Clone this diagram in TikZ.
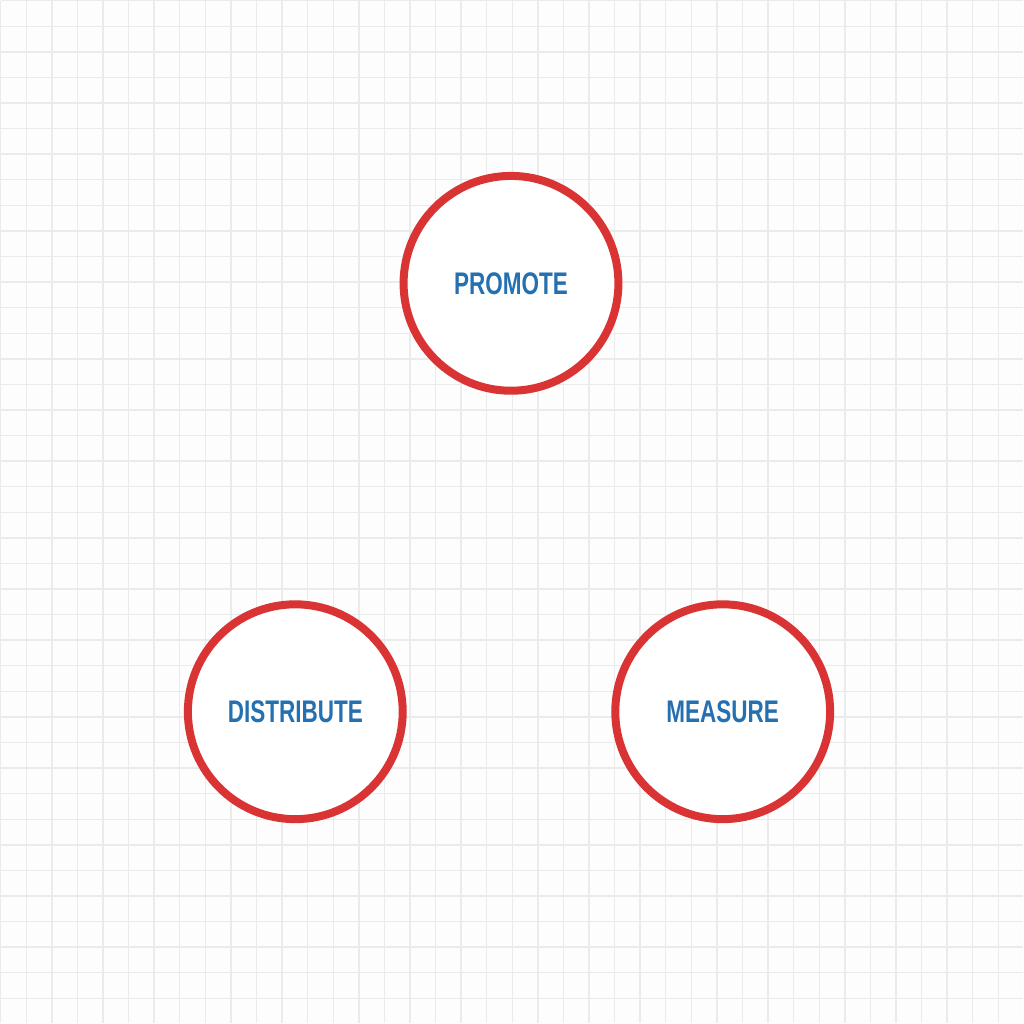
\documentclass[tikz,border=0pt]{standalone}
\usepackage{fontspec}
\setmainfont{Liberation Sans}
\newfontfamily\stagefont[FakeStretch=0.72]{Liberation Sans}
\usepackage{tikz}

\definecolor{ringred}{HTML}{D93333}
\definecolor{labelblue}{HTML}{2470B0}
\definecolor{gridgray}{HTML}{EBEBEB}
\definecolor{paper}{HTML}{FDFDFD}

\begin{document}
\begin{tikzpicture}[x = 0.01cm, y = -0.01cm]

  \tikzstyle{stage} = [circle, draw = ringred, line width = 0.08cm, fill = white,
    minimum size = 2.15cm, inner sep = 0pt, text = labelblue,
    font = \stagefont\bfseries\fontsize{8.9}{10}\selectfont]

    % paper and grid
    \fill[paper] (0,0) rectangle (1024,1024);
    \draw[gridgray, line width = 0.4pt, step = 0.256cm] (0,0) grid (1024,1024);
    \useasboundingbox (0,0) rectangle (1024,1024);

    \node[stage] (promote) at (511,283) {PROMOTE};
    \node[stage] (distribute) at (295,712) {DISTRIBUTE};
    \node[stage] (measure) at (723,712) {MEASURE};
\end{tikzpicture}
\end{document}
